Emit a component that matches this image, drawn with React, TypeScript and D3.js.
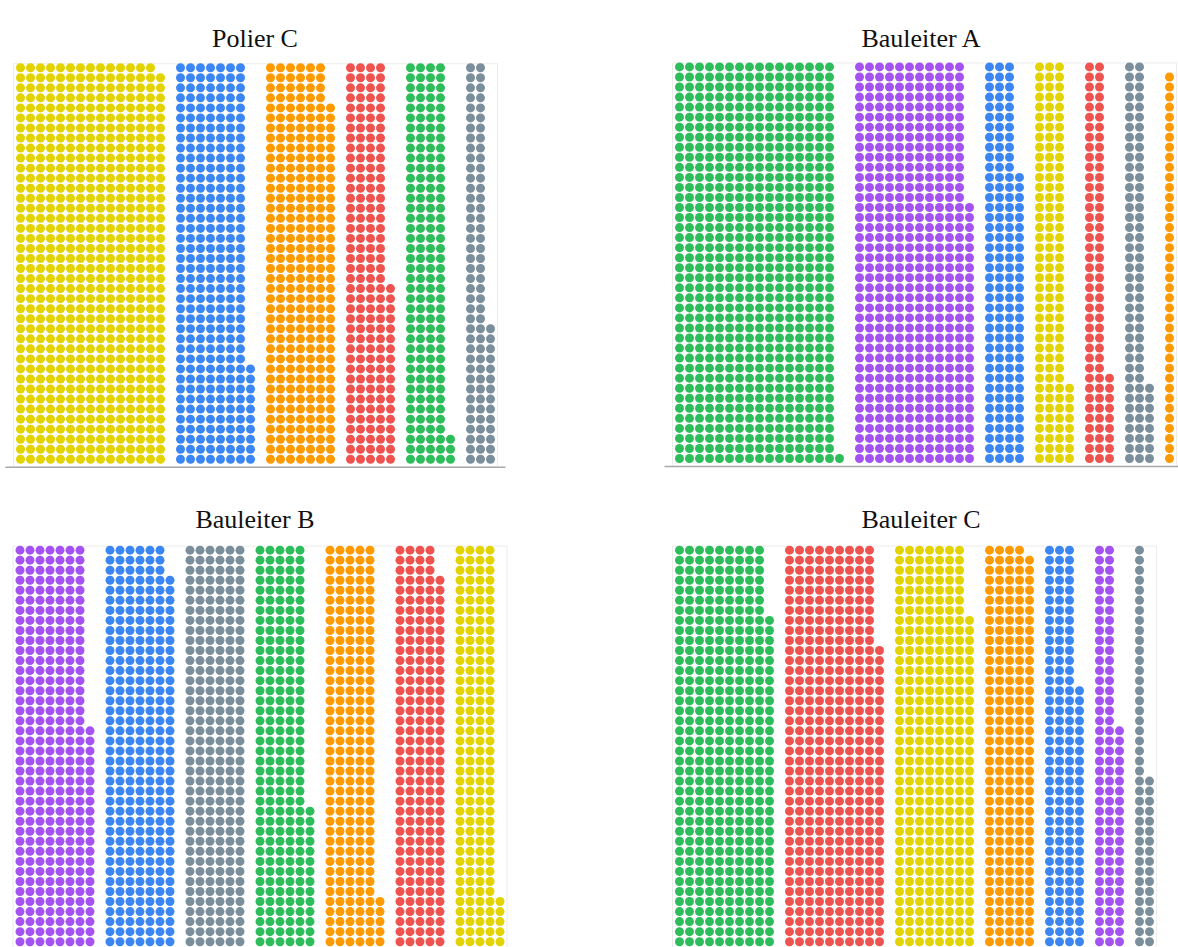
import React from "react";
import * as d3 from "d3";

const ROWS = 40;

const colorMap: Record<string, string> = {
  gelb: "#e3d300",
  blau: "#3b86f3",
  orange: "#ff9a00",
  rot: "#ef5350",
  gruen: "#2dbd5a",
  grau: "#7a8e9b",
  lila: "#a552f2",
};

const panelTitles = ["Polier C", "Bauleiter A", "Bauleiter B", "Bauleiter C"];

const polierCCats = ["gelb", "blau", "orange", "rot", "gruen", "grau"];
const polierCVals = [599, 290, 276, 178, 163, 94];

const bauleiterACats = ["gruen", "lila", "blau", "gelb", "rot", "grau", "orange"];
const bauleiterAVals = [641, 466, 149, 128, 89, 88, 39];

const bauleiterBCats = ["lila", "blau", "grau", "gruen", "orange", "rot", "gelb"];
const bauleiterBVals = [302, 277, 240, 214, 205, 197, 165];

const bauleiterCCats = ["gruen", "rot", "gelb", "orange", "blau", "lila", "grau"];
const bauleiterCVals = [393, 390, 313, 199, 146, 102, 57];

const panelCats = [polierCCats, bauleiterACats, bauleiterBCats, bauleiterCCats];
const panelVals = [polierCVals, bauleiterAVals, bauleiterBVals, bauleiterCVals];

// layout
const col0X = [20.5, 679.5, 20, 679.5];
const row0Y = [459.3, 458.5, 941.7, 941.7];
const titleX = [255, 921, 255, 921];
const titleY = [47, 47, 528, 528];
const PITCH_X = 10;
const PITCH_Y = 10.04;
const R = 4.5;

function buildDots(cats: string[], vals: number[]) {
  const dots: { col: number; row: number; cat: string }[] = [];
  let start = 0;
  cats.forEach((c, i) => {
    const n = vals[i];
    for (let k = 0; k < n; k++) {
      dots.push({ col: start + Math.floor(k / ROWS), row: k % ROWS, cat: c });
    }
    start += Math.ceil(n / ROWS) + 1;
  });
  return { dots, nCols: start - 1 };
}

function Panel({ idx }: { idx: number }) {
  const { dots, nCols } = buildDots(panelCats[idx], panelVals[idx]);
  const x = d3
    .scaleLinear()
    .domain([0, 1])
    .range([col0X[idx], col0X[idx] + PITCH_X]);
  const y = d3
    .scaleLinear()
    .domain([0, 1])
    .range([row0Y[idx], row0Y[idx] - PITCH_Y]);
  const lastX = x(nCols - 1);
  const topY = y(ROWS - 1) - 4;
  const botY = y(0) + 8;
  return (
    <g>
      <rect
        x={x(0) - 7}
        y={topY}
        width={lastX + 7 - (x(0) - 7)}
        height={botY - topY}
        fill="none"
        stroke="#ececec"
        strokeWidth={1}
      />
      <line
        x1={x(0) - 15}
        x2={lastX + 15}
        y1={botY}
        y2={botY}
        stroke="#a8a8a8"
        strokeWidth={1.5}
      />
      {dots.map((d, i) => (
        <circle key={i} cx={x(d.col)} cy={y(d.row)} r={R} fill={colorMap[d.cat]} />
      ))}
      <text
        x={titleX[idx]}
        y={titleY[idx]}
        textAnchor="middle"
        fontFamily="'Liberation Serif', 'Times New Roman', serif"
        fontSize={26}
        fill="#111"
      >
        {panelTitles[idx]}
      </text>
    </g>
  );
}

export default function App() {
  return (
    <svg
      width={1178}
      height={947}
      style={{ position: "absolute", left: 0, top: 0, background: "#fff" }}
    >
      <rect width={1178} height={947} fill="#fff" />
      {[0, 1, 2, 3].map((i) => (
        <Panel key={i} idx={i} />
      ))}
    </svg>
  );
}
